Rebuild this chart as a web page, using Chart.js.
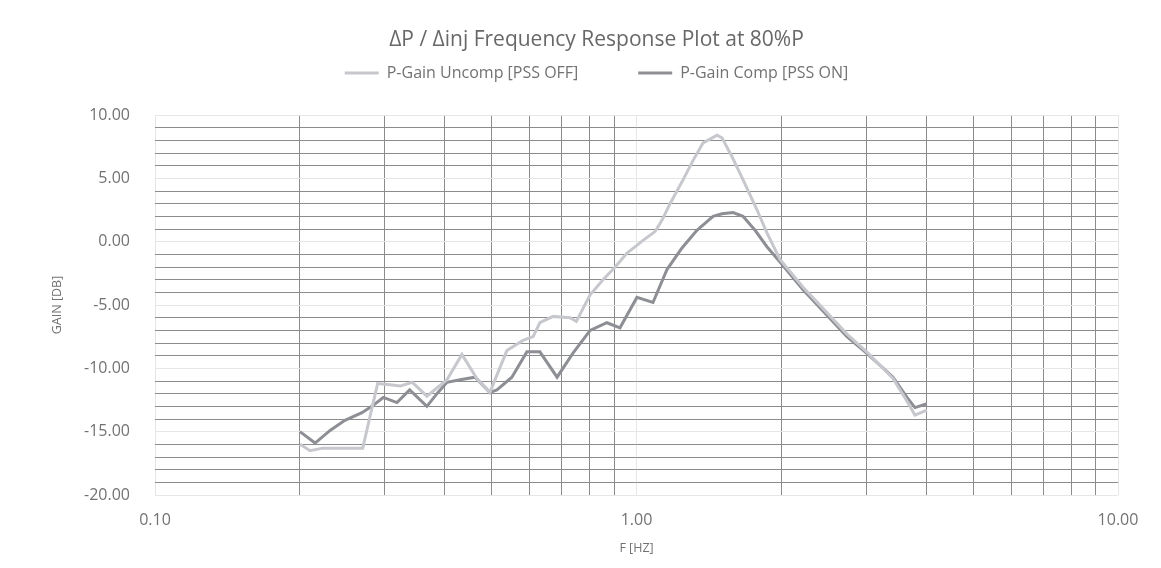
<!DOCTYPE html>
<html>
<head>
<meta charset="utf-8">
<script src="https://cdn.jsdelivr.net/npm/chart.js@4.4.1/dist/chart.umd.min.js"></script>
<style>
  html, body { margin: 0; padding: 0; background: #fff; }
</style>
</head>
<body>
<canvas id="chart" width="1161" height="568"></canvas>
<script>
// P-Gain Uncomp [PSS OFF]
const freqUncomp = [0.200, 0.210, 0.223, 0.242, 0.270, 0.290, 0.308, 0.323, 0.342, 0.367,
    0.404, 0.434, 0.466, 0.496, 0.538, 0.581, 0.610, 0.630, 0.671, 0.728,
    0.750, 0.801, 0.852, 0.903, 0.956, 1.032, 1.093, 1.130, 1.174, 1.250,
    1.310, 1.375, 1.470, 1.505, 1.579, 1.664, 1.780, 1.866, 1.986, 2.218,
    2.486, 2.736, 3.026, 3.410, 3.646, 3.787, 4.010];
const gainUncomp = [-16.0, -16.5, -16.3, -16.3, -16.3, -11.2, -11.3, -11.4, -11.1, -12.2,
    -10.9, -8.9, -10.8, -11.9, -8.6, -7.8, -7.5, -6.4, -5.9, -6.0,
    -6.3, -4.2, -3.0, -2.0, -0.9, 0.1, 0.8, 1.7, 3.0, 4.9,
    6.4, 7.8, 8.4, 8.2, 6.7, 4.9, 2.5, 0.7, -1.4, -3.6,
    -5.6, -7.3, -8.8, -10.8, -12.6, -13.7, -13.3];

// P-Gain Comp [PSS ON]
const freqComp = [0.200, 0.215, 0.231, 0.248, 0.269, 0.282, 0.298, 0.318, 0.338, 0.367,
    0.387, 0.404, 0.430, 0.462, 0.496, 0.513, 0.551, 0.592, 0.630, 0.684,
    0.738, 0.801, 0.868, 0.924, 1.002, 1.082, 1.157, 1.243, 1.335, 1.442,
    1.505, 1.587, 1.664, 1.763, 1.866, 1.986, 2.218, 2.486, 2.736, 3.026,
    3.410, 3.646, 3.787, 4.010];
const gainComp = [-15.0, -15.9, -14.9, -14.1, -13.5, -13.0, -12.3, -12.7, -11.7, -13.0,
    -11.9, -11.1, -10.9, -10.7, -11.9, -11.7, -10.7, -8.7, -8.7, -10.7,
    -8.8, -7.0, -6.4, -6.8, -4.4, -4.8, -2.2, -0.5, 0.9, 2.0,
    2.2, 2.3, 2.0, 0.9, -0.4, -1.6, -3.8, -5.8, -7.5, -8.9,
    -10.7, -12.3, -13.1, -12.8];

// x ticks: decades get labels, the rest are minor grid lines
const xTickValues = [0.1, 0.2, 0.3, 0.4, 0.5, 0.6, 0.7, 0.8, 0.9,
    1, 2, 3, 4, 5, 6, 7, 8, 9, 10];
const xLabelValues = [0.1, 1, 10];
const yMin = -20;
const yMax = 10;
const yLabelStep = 5;

const toPoints = (xs, ys) => xs.map((x, i) => ({ x: x, y: ys[i] }));

const textColor = "#727272";
const minorGrid = "#8c8c8c";
const majorGrid = "#e6e6e6";
const fontFamily = "'Open Sans', sans-serif";
const padLeft = 75;   // shifts title + legend a bit right, like the original

const isDecade = (v) => xLabelValues.some(d => Math.abs(d - v) < 1e-9);

const chart = new Chart(document.getElementById("chart"), {
    type: "line",
    data: {
        datasets: [
            {
                label: "P-Gain Uncomp [PSS OFF]",
                data: toPoints(freqUncomp, gainUncomp),
                borderColor: "#c6c8cd",
                backgroundColor: "#c6c8cd",
                borderWidth: 3,
                pointRadius: 0,
                tension: 0
            },
            {
                label: "P-Gain Comp [PSS ON]",
                data: toPoints(freqComp, gainComp),
                borderColor: "#8d8f95",
                backgroundColor: "#8d8f95",
                borderWidth: 3,
                pointRadius: 0,
                tension: 0
            }
        ]
    },
    options: {
        responsive: false,
        animation: false,
        layout: { padding: { left: padLeft, right: 43, top: 0, bottom: 0 } },
        plugins: {
            tooltip: { enabled: false },
            title: {
                display: true,
                text: "ΔP / Δinj Frequency Response Plot at 80%P",
                color: "#686868",
                font: { family: fontFamily, size: 21, weight: "normal" },
                padding: { top: 27.4, bottom: 2.4 }
            },
            legend: {
                display: true,
                position: "top",
                labels: {
                    color: textColor,
                    font: { family: fontFamily, size: 16 },
                    boxWidth: 34,
                    boxHeight: 3,
                    padding: 10,
                    generateLabels: (c) => {
                        const items = Chart.defaults.plugins.legend.labels.generateLabels(c);
                        items.forEach((it, i) => {
                            it.lineWidth = 0;
                            if (i < items.length - 1) it.text = it.text + " ".repeat(12);
                        });
                        return items;
                    }
                }
            },
            // empty subtitle under the legend, only used as spacing
            subtitle: {
                display: true,
                text: "",
                weight: 500,
                font: { size: 10 },
                padding: { top: 12, bottom: 0 }
            }
        },
        scales: {
            x: {
                type: "logarithmic",
                min: 0.1,
                max: 10,
                afterBuildTicks: (scale) => {
                    scale.ticks = xTickValues.map(v => ({ value: v, major: isDecade(v) }));
                },
                afterFit: (scale) => { scale.height = 73; },
                ticks: {
                    autoSkip: false,
                    maxRotation: 0,
                    padding: 16,
                    color: textColor,
                    font: { family: fontFamily, size: 16 },
                    callback: (v) => isDecade(v) ? Number(v).toFixed(2) : ""
                },
                grid: {
                    drawTicks: false,
                    color: (ctx) => isDecade(ctx.tick.value) ? majorGrid : minorGrid,
                    lineWidth: 1
                },
                border: { display: false },
                title: {
                    display: true,
                    text: "F [HZ]",
                    color: textColor,
                    font: { family: fontFamily, size: 12.5 },
                    padding: { top: 0, bottom: 12.5 }
                }
            },
            y: {
                type: "linear",
                min: yMin,
                max: yMax,
                afterFit: (scale) => { scale.width = 155 - padLeft; },
                ticks: {
                    stepSize: 1,
                    autoSkip: false,
                    padding: 25,
                    color: textColor,
                    font: { family: fontFamily, size: 16 },
                    callback: (v) => v % yLabelStep === 0 ? Number(v).toFixed(2) : ""
                },
                grid: {
                    drawTicks: false,
                    color: (ctx) => ctx.tick.value % yLabelStep === 0 ? majorGrid : minorGrid,
                    lineWidth: 1
                },
                border: { display: false },
                title: {
                    display: true,
                    text: "GAIN [DB]",
                    color: textColor,
                    font: { family: fontFamily, size: 12.5 },
                    padding: { top: 57 - padLeft - 7.5, bottom: 0 }
                }
            }
        }
    }
});
</script>
</body>
</html>
